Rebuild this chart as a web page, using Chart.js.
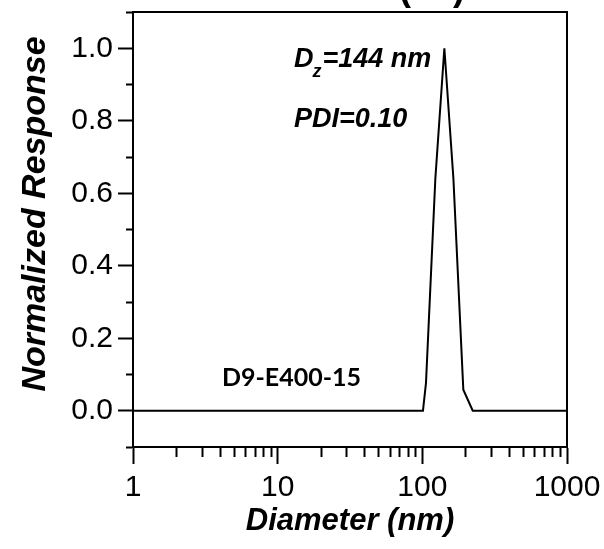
<!DOCTYPE html>
<html>
<head>
<meta charset="utf-8">
<script src="https://cdn.jsdelivr.net/npm/chart.js@4.4.0/dist/chart.umd.min.js"></script>
<style>
  body { margin: 0; background: #fff; }
  #wrap { width: 604px; height: 549px; }
</style>
</head>
<body>
<div id="wrap"><canvas id="dlsChart"></canvas></div>
<script>
// size distribution
const diameters = [1, 101, 106, 123, 142, 164, 192, 223, 1000];
const response = [0, 0, 0.077, 0.64, 1.0, 0.64, 0.058, 0, 0];

const xTicks = [1, 2, 3, 4, 5, 6, 7, 8, 9, 10, 20, 30, 40, 50, 60, 70, 80, 90,
  100, 200, 300, 400, 500, 600, 700, 800, 900, 1000];
const xLabels = [1, 10, 100, 1000];
const yTicks = [-0.1, 0, 0.1, 0.2, 0.3, 0.4, 0.5, 0.6, 0.7, 0.8, 0.9, 1.0, 1.1];
const yLabels = [0, 0.2, 0.4, 0.6, 0.8, 1.0];

const isYLabel = v => yLabels.some(l => Math.abs(l - v) < 1e-6);

// top/right frame, y title, cut title and the text notes
const extras = {
  id: 'extras',
  afterDraw(chart) {
    const c = chart.ctx;
    const a = chart.chartArea;
    c.save();
    c.strokeStyle = '#000';
    c.lineWidth = 2;
    c.beginPath();
    c.moveTo(a.left, a.top);
    c.lineTo(a.right, a.top);
    c.lineTo(a.right, a.bottom);
    c.stroke();

    c.fillStyle = '#000';
    c.textBaseline = 'alphabetic';

    // title, mostly off the top edge
    c.font = 'bold 36px "Liberation Sans", Arial';
    c.textAlign = 'center';
    c.fillText('( b )', 432, 0);

    // y axis title
    c.save();
    c.translate(45, 214);
    c.rotate(-Math.PI / 2);
    c.font = 'bold italic 34px "Liberation Sans", Arial';
    c.fillText('Normalized Response', 0, 0);
    c.restore();

    c.textAlign = 'left';
    c.font = 'bold italic 27px "Liberation Sans", Arial';
    c.fillText('D', 294, 67);
    let x = 294 + c.measureText('D').width;
    c.font = 'bold italic 18px "Liberation Sans", Arial';
    c.fillText('z', x - 1, 77);
    x += c.measureText('z').width;
    c.font = 'bold italic 27px "Liberation Sans", Arial';
    c.fillText('=144 nm', x, 67);
    c.fillText('PDI=0.10', 294, 127);

    c.font = 'bold 25px Lato, "Open Sans", sans-serif';
    c.fillText('D9-E400-15', 222, 386);
    c.restore();
  }
};

const ctx = document.querySelector('#dlsChart').getContext('2d');

new Chart(ctx, {
  type: 'line',
  data: {
    datasets: [{
      data: diameters.map((d, i) => ({ x: d, y: response[i] })),
      borderColor: '#000',
      borderWidth: 2,
      pointRadius: 0,
      fill: false,
      tension: 0
    }]
  },
  options: {
    responsive: true,
    maintainAspectRatio: false,
    animation: false,
    layout: { padding: { top: 12, right: 37, left: 0, bottom: 0 } },
    plugins: {
      legend: { display: false },
      tooltip: { enabled: false }
    },
    scales: {
      x: {
        type: 'logarithmic',
        position: 'bottom',
        min: 1,
        max: 1000,
        afterBuildTicks: s => { s.ticks = xTicks.map(v => ({ value: v })); },
        afterFit: s => { s.height = 102; s.paddingLeft = 0; s.paddingRight = 0; },
        ticks: {
          autoSkip: false,
          maxRotation: 0,
          padding: 6,
          color: '#000',
          font: { family: '"Liberation Sans", Arial', size: 30 },
          callback: v => xLabels.includes(v) ? String(v) : ''
        },
        grid: {
          drawOnChartArea: false,
          tickLength: 17,
          tickWidth: 2,
          tickColor: '#000',
          tickBorderDash: c => xLabels.includes(c.tick.value) ? [] : [9, 100]
        },
        border: { display: true, color: '#000', width: 2 },
        title: {
          display: true,
          text: 'Diameter (nm)',
          color: '#000',
          font: { family: '"Liberation Sans", Arial', size: 31, weight: 'bold', style: 'italic' },
          padding: { top: 0, bottom: 9 }
        }
      },
      y: {
        type: 'linear',
        min: -0.1,
        max: 1.1,
        afterBuildTicks: s => { s.ticks = yTicks.map(v => ({ value: v })); },
        afterFit: s => { s.width = 133; s.paddingTop = 0; s.paddingBottom = 0; },
        ticks: {
          autoSkip: false,
          padding: 5,
          color: '#000',
          font: { family: '"Liberation Sans", Arial', size: 30 },
          callback: v => isYLabel(v) ? v.toFixed(1) : ''
        },
        grid: {
          drawOnChartArea: false,
          tickLength: 15,
          tickWidth: 2,
          tickColor: '#000',
          tickBorderDash: c => isYLabel(c.tick.value) ? [] : [0, 8, 7, 100]
        },
        border: { display: true, color: '#000', width: 2 }
      }
    }
  },
  plugins: [extras]
});
</script>
</body>
</html>
